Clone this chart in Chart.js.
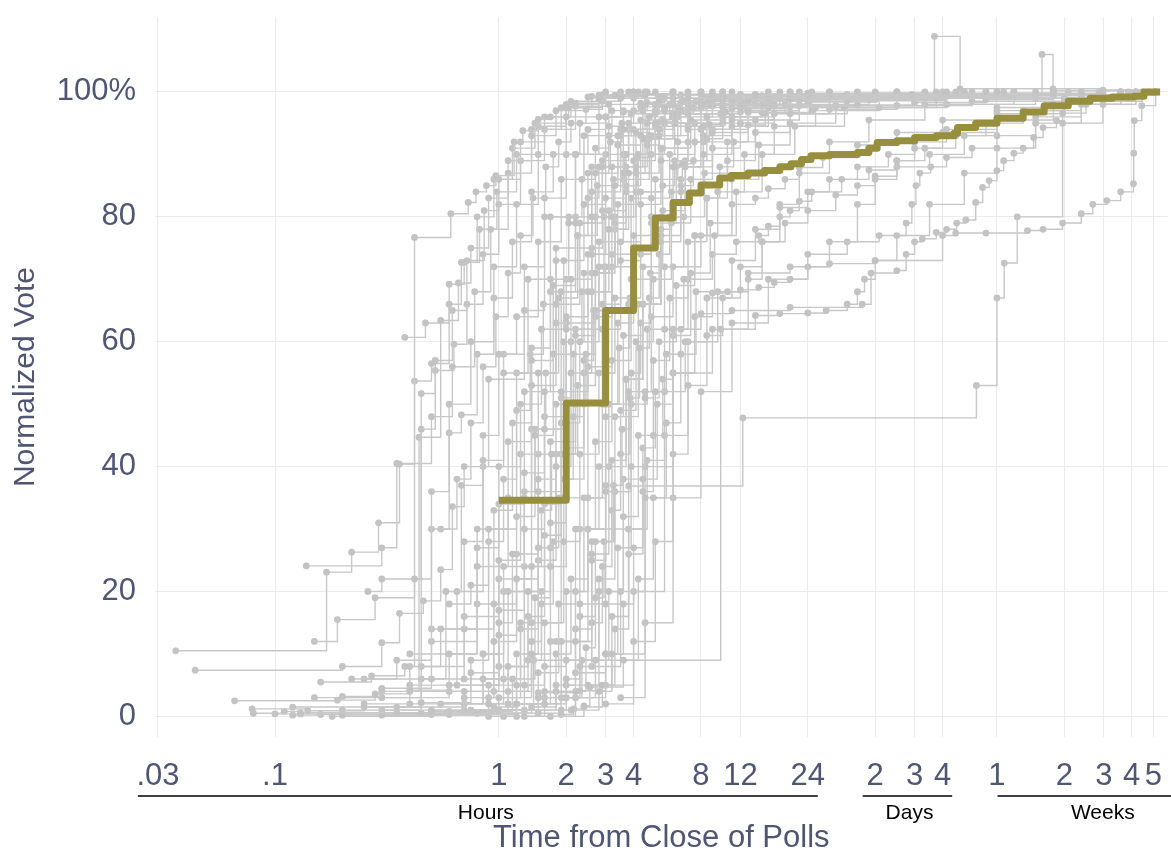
<!DOCTYPE html>
<html><head><meta charset="utf-8">
<script src="https://cdn.jsdelivr.net/npm/chart.js@4.4.0/dist/chart.umd.min.js"></script>
<style>html,body{margin:0;padding:0;background:#fff;} #wrap{width:1171px;height:852px;position:relative;}</style>
</head><body><div id="wrap"><canvas id="c" width="1171" height="852"></canvas></div>
<script>
// ---- tick definitions ----
const xTickValues = [0.03, 0.1, 1, 2, 3, 4, 8, 12, 24, 48, 72, 96, 168, 336, 504, 672, 840];
const xTickLabels = ['.03', '.1', '1', '2', '3', '4', '8', '12', '24', '2', '3', '4', '1', '2', '3', '4', '5'];
const yTickValues = [0, 20, 40, 60, 80, 100];
const yTickLabels = ['0', '20', '40', '60', '80', '100%'];
const axisGroups = [
  {label: 'Hours', from: 0.0244, to: 26.6, at: 0.875},
  {label: 'Days', from: 42.2, to: 106, at: 68.3},
  {label: 'Weeks', from: 169, to: 1400, at: 499}
];

// ---- highlighted series (hours from close of polls, normalized vote %) ----
const highlight = [[1,34.6],[2,50.2],[3,65],[4,75],[5,79.8],[6,82.3],[7.1,83.8],[8,85.1],[9.7,86.2],[10.9,86.6],[13,87],[15.4,87.4],[18,88],[20.2,88.5],[22.5,89.2],[24.8,89.8],[30,90],[40,90.3],[45,91],[49,91.9],[60,92.2],[72,92.7],[90,93],[108,93.4],[112,94.3],[135,95],[168,95.8],[220,96.8],[273,97.8],[350,98.5],[438,99],[550,99.2],[687,99.3],[762,100],[900,100]];

// ---- individual races (hours, %) ----
const s01 = [[0.036,10.5],[0.17,23.1],[0.22,26.3],[0.29,31],[0.36,40.4],[0.42,76.7],[0.61,80.5],[0.73,82.3],[0.79,84],[0.88,85],[0.97,86.6],[1.17,92],[1.28,93.8],[1.5,95.6],[1.7,96],[2.05,97.5],[2.2,98.2],[2.8,99],[3.3,99.5],[4.6,100]];
const s02 = [[0.044,7.4],[0.2,8],[0.3,11.8],[0.36,16.5],[0.46,18.5],[0.55,23.5],[0.62,33.6],[0.7,40],[0.9,54],[1.3,65],[1.6,80],[2.2,90],[2.8,96],[3.5,99],[5,100]];
const s03 = [[0.066,2.5],[0.19,2.6],[0.28,3.6],[0.4,4.2],[0.6,10],[0.8,24],[1.1,35],[1.4,53],[1.8,66],[2.3,79],[2.9,88],[3.6,94],[4.5,98],[6,100]];
const s04 = [[0.079,1.2],[0.14,0.9],[0.25,1.5],[0.45,2.2],[0.75,7],[1.0,17],[1.3,30],[1.6,46],[2.0,62],[2.6,74],[3.3,85],[4.3,93],[5.5,97],[8,100]];
const s05 = [[0.1,0.4],[0.13,0.6],[0.5,0.8],[0.7,4],[0.95,12],[1.2,22],[1.5,36],[1.9,52],[2.5,68],[3.2,80],[4,89],[5,95],[7,99],[10,100]];
const s06 = [[0.138,24.1],[0.3,27],[0.35,40.5],[0.5,48],[0.62,56],[0.78,68],[0.92,78],[1.1,87],[1.4,93],[1.8,97],[2.5,99.2],[3.5,100]];
const s07 = [[0.15,12],[0.19,15.5],[0.28,19],[0.42,22],[0.5,36],[0.6,50],[0.75,60],[0.95,72],[1.2,82],[1.5,90],[2.0,96],[2.8,99],[4,100]];
const s08 = [[0.16,5.5],[0.27,6.5],[0.38,8],[0.55,14],[0.7,28],[0.85,41],[1.05,55],[1.35,70],[1.7,80],[2.2,90],[3,96],[4,99],[6,100]];
const s09 = [[0.2,3.2],[0.3,4.5],[0.5,6],[0.58,20],[0.68,37],[0.85,45],[1.0,58],[1.2,64],[1.5,76],[1.9,86],[2.4,93],[3.2,97],[4.5,99.5],[7,100]];
const s10 = [[0.26,20],[0.3,22],[0.45,46],[0.52,57],[0.62,65],[0.72,73],[0.86,81],[1.0,86],[1.25,92],[1.6,96],[2.1,98.5],[3,100]];
const e11 = [[0.25,2],[0.4,8],[0.42,53.7],[0.5,56.5],[0.6,66],[0.68,72.7],[0.8,80],[0.95,86],[1.15,91],[1.45,95],[2,98],[2.8,99.5],[4,100]];
const e12 = [[0.3,4],[0.44,44.7],[0.55,63.4],[0.66,69.4],[0.75,75],[0.9,83],[1.1,89],[1.4,94],[1.9,97.5],[2.6,99.3],[3.8,100]];
const e13 = [[0.2,1],[0.45,51.7],[0.52,55.4],[0.63,59.6],[0.72,66],[0.85,74],[1.0,82],[1.25,89],[1.6,94],[2.2,97.7],[3,99.4],[4.5,100]];
const e14 = [[0.38,60.7],[0.47,63],[0.6,69.2],[0.7,72.7],[0.82,78],[0.98,84],[1.2,90],[1.5,94.5],[2.0,97.5],[2.9,99.5],[4.2,100]];
const e15 = [[0.22,6],[0.35,9],[0.5,30],[0.6,45.4],[0.68,48.3],[0.8,58],[0.95,67],[1.15,76],[1.4,84],[1.75,90],[2.3,95],[3.1,98],[4.5,99.6],[8,100]];
const m01 = [[0.3,0.2],[0.9,2],[1.1,8],[1.35,20],[1.6,34],[1.9,47],[2.3,60],[2.8,72],[3.4,82],[4.2,90],[5.5,95],[8,98],[14,99.5],[40,100]];
const m02 = [[0.45,0.5],[1.0,3],[1.25,14],[1.5,27],[1.8,40],[2.1,55],[2.6,68],[3.1,78],[3.8,87],[4.8,93],[6.5,97],[10,99],[24,99.6],[96,100]];
const m03 = [[0.5,1],[1.1,4],[1.4,10],[1.7,24],[2.0,38],[2.4,50],[2.9,62],[3.5,73],[4.3,82],[5.3,89],[7,94],[10,97.5],[16,99],[60,100]];
const m04 = [[0.6,0.3],[1.2,2],[1.5,7],[1.85,18],[2.2,30],[2.7,44],[3.2,57],[3.9,70],[4.8,80],[6,88],[8,94],[12,97.5],[20,99],[100,100]];
const m05 = [[0.35,1.5],[0.7,3],[0.95,18],[1.2,32],[1.45,45],[1.75,58],[2.1,70],[2.6,80],[3.2,88],[4,94],[5.5,97.5],[9,99.3],[30,100]];
const m06 = [[0.55,2],[0.85,6],[1.05,24],[1.3,39],[1.6,52],[2.0,64],[2.5,74],[3.0,83],[3.7,90],[4.6,95],[6,98],[9,99.5],[20,100]];
const m07 = [[0.4,4],[0.75,9],[0.9,30],[1.1,44],[1.4,57],[1.75,69],[2.2,79],[2.7,87],[3.4,93],[4.4,97],[6,99],[11,100]];
const m08 = [[0.25,6],[0.5,12],[0.8,27],[1.0,40],[1.25,50],[1.55,62],[1.95,73],[2.4,82],[3.0,90],[3.8,95],[5,98],[8,99.6],[18,100]];
const m09 = [[0.7,1],[1.3,5],[1.6,15],[1.95,28],[2.3,42],[2.8,55],[3.3,67],[4.0,77],[5.0,86],[6.3,92],[8.5,96],[13,98.5],[30,99.4],[150,100]];
const m10 = [[0.8,0.5],[1.5,3],[1.8,10],[2.1,22],[2.5,35],[3.0,48],[3.6,61],[4.4,72],[5.4,81],[6.8,88],[9,93.5],[13,97],[22,98.8],[70,99.6],[300,100]];
const m11 = [[0.3,3],[0.6,5],[1.0,13],[1.2,26],[1.5,38],[1.8,50],[2.2,61],[2.7,71],[3.3,80],[4.1,87],[5.2,93],[7,96.5],[11,98.8],[25,100]];
const m12 = [[0.9,0],[1.6,2],[2.0,6],[2.3,16],[2.7,28],[3.2,41],[3.7,54],[4.4,66],[5.3,76],[6.5,84],[8.2,90],[11,94.5],[16,97.5],[30,99.2],[120,100]];
const m13 = [[0.2,0.2],[0.6,0.8],[1.15,6],[1.45,19],[1.7,31],[2.0,43],[2.4,55],[2.9,66],[3.5,76],[4.3,84],[5.4,91],[7.2,95.5],[10,98],[18,99.5],[48,100]];
const m14 = [[0.65,5],[1.0,8],[1.35,16],[1.6,29],[1.9,42],[2.25,53],[2.7,64],[3.2,74],[3.9,83],[4.8,90],[6.1,95],[8.5,98],[14,99.5],[60,100]];
const m15 = [[1.0,1],[1.8,4],[2.2,12],[2.6,25],[3.0,37],[3.5,49],[4.1,60],[4.9,70],[5.9,79],[7.2,86],[9,91],[12,95],[17,97.8],[35,99.3],[180,100]];
const m16 = [[0.45,8],[0.7,14],[0.95,33],[1.15,47],[1.4,59],[1.7,70],[2.05,79],[2.5,87],[3.1,93],[3.9,96.5],[5.2,98.5],[8,99.6],[16,100]];
const m17 = [[0.12,1.5],[0.4,2],[0.85,10],[1.05,20],[1.3,35],[1.6,48],[1.95,60],[2.4,71],[2.95,80],[3.6,87],[4.5,92.5],[6,96.5],[9,98.7],[20,99.7],[90,100]];
const m18 = [[0.5,14],[0.8,18],[1.0,25],[1.25,42],[1.5,55],[1.85,67],[2.25,77],[2.75,85],[3.4,91.5],[4.3,95.5],[5.8,98],[9,99.4],[22,100]];
const n01 = [[0.5,0.5],[0.95,1.5],[1.2,5],[1.4,12],[1.55,20],[1.7,27],[1.85,35],[2.0,42],[2.2,50],[2.45,58],[2.7,65],[3.0,72],[3.3,78],[3.7,84],[4.1,88],[4.6,91.5],[5.2,94],[6,96],[7,97.3],[8.5,98.2],[11,98.9],[15,99.4],[24,99.8],[60,100]];
const n02 = [[0.7,2],[1.05,6],[1.25,15],[1.4,24],[1.55,33],[1.72,42],[1.9,51],[2.1,60],[2.35,68],[2.6,75],[2.9,81],[3.25,86],[3.65,90],[4.1,93.5],[4.7,96],[5.5,97.6],[6.6,98.6],[8.5,99.2],[12,99.6],[20,100]];
const n03 = [[1.3,0],[1.9,1],[2.2,4],[2.45,11],[2.7,19],[2.95,28],[3.25,37],[3.55,46],[3.9,55],[4.3,63],[4.75,71],[5.3,78],[5.9,84],[6.6,88.5],[7.5,92],[8.7,94.8],[10.3,96.8],[12.5,98],[16,98.8],[24,99.4],[40,99.8],[110,100]];
const n04 = [[0.85,10],[1.0,15],[1.15,26],[1.3,36],[1.45,46],[1.62,55],[1.8,63],[2.0,70],[2.25,77],[2.5,83],[2.8,88],[3.15,92],[3.55,95],[4,97],[4.6,98.3],[5.5,99.1],[7,99.6],[10,100]];
const n05 = [[0.6,18],[0.75,21],[0.9,28],[1.05,38],[1.2,49],[1.38,58],[1.58,66],[1.8,73],[2.05,80],[2.35,86],[2.7,91],[3.1,94.5],[3.6,96.8],[4.3,98.2],[5.2,99],[6.5,99.5],[9,100]];
const n06 = [[1.6,3],[2.3,8],[2.6,15],[2.9,24],[3.2,33],[3.5,42],[3.85,51],[4.25,59],[4.7,67],[5.2,74],[5.8,80],[6.5,85],[7.4,89],[8.5,92.5],[10,95],[12,96.8],[15,98],[20,98.8],[30,99.3],[60,99.7],[168,100]];
const n07 = [[0.55,30],[0.65,38],[0.75,47],[0.85,56],[0.97,64],[1.1,71],[1.25,77],[1.42,83],[1.62,88],[1.85,92],[2.1,95],[2.45,97.2],[2.9,98.5],[3.5,99.3],[4.5,99.7],[6,100]];
const n08 = [[2.1,1],[2.8,4],[3.2,10],[3.6,18],[4.0,27],[4.4,36],[4.9,45],[5.4,54],[6,62],[6.7,70],[7.5,77],[8.5,83],[9.7,88],[11.2,92],[13,94.7],[15.5,96.6],[19,98],[25,98.9],[40,99.5],[100,99.8],[300,100]];
const n09 = [[1.8,12],[2.2,20],[2.5,30],[2.8,40],[3.1,50],[3.45,59],[3.85,67],[4.3,74],[4.8,80],[5.4,85],[6.1,89],[7,92],[8.2,94.5],[9.8,96.5],[12,97.8],[16,98.7],[24,99.3],[48,99.7],[130,100]];
const n10 = [[0.95,4],[1.35,9],[1.55,18],[1.75,28],[1.95,38],[2.15,48],[2.4,57],[2.65,65],[2.95,72],[3.3,79],[3.7,85],[4.15,89.5],[4.7,93],[5.4,95.6],[6.3,97.4],[7.6,98.5],[9.5,99.2],[14,99.6],[30,100]];
const n11 = [[0.4,5],[0.65,20],[0.85,40],[1.05,58],[1.3,72],[1.6,83],[2,90],[2.5,94],[3,96],[3.6,97],[4.3,97.6],[5.2,98],[6.5,98.3],[8,98.6],[10,98.9],[13,99.1],[17,99.3],[24,99.5],[36,99.6],[60,99.8],[120,100]];
const n12 = [[0.75,1],[1.2,10],[1.5,25],[1.8,42],[2.15,58],[2.6,71],[3.1,81],[3.7,88],[4.4,92.5],[5.2,95.2],[6.2,96.6],[7.4,97.4],[9,97.9],[11,98.3],[14,98.6],[18,98.9],[24,99.1],[36,99.3],[60,99.5],[96,99.7],[200,100]];
const l01 = [[1.2,0],[2.2,3],[2.7,9],[3.1,20],[3.6,32],[4.2,45],[4.9,57],[5.8,67],[7,76],[8.5,83],[10.5,89],[14,93.5],[20,96.5],[36,98.6],[100,99.5],[400,100]];
const l02 = [[1.7,0],[2.4,1.5],[2.9,5],[3.3,14],[3.8,26],[4.4,38],[5.1,50],[6,61],[7.2,71],[8.8,79],[11,86],[14.5,91.5],[20,95],[32,97.8],[80,99.2],[300,100]];
const l03 = [[1.9,0.3],[2.16,1.2],[2.4,1.7],[2.55,4.7],[3.6,9],[4.2,22],[4.9,35],[5.6,47],[6.5,58],[7.6,68],[9.2,77],[11.5,84],[15,90],[21,94.5],[35,97.5],[90,99],[500,100]];
const l04 = [[1.5,3.8],[2.3,4.1],[3.0,10],[3.4,27],[3.9,40],[4.5,51],[5.2,60],[6.2,69],[7.5,77],[9.5,84],[12.5,90],[17,94.5],[26,97.5],[60,99.2],[250,100]];
const l05 = [[0.3,1],[1.43,9],[9.8,62],[13,70],[15,76],[18,82],[22,87],[30,92],[45,95.5],[80,98],[200,99.5],[600,100]];
const l06 = [[1.1,2],[1.9,12],[2.5,30],[3.8,36.9],[12.3,47.8],[136,53],[168,67],[181,72.6],[207,80],[330,95],[500,98],[700,99.5],[860,100]];
const l07 = [[2.5,5],[3.2,16],[3.8,30],[4.4,43],[5.0,52],[5.6,58],[6.5,62],[8,64.5],[11,65],[20,65.5],[42,66],[46,71],[60,71.4],[66,74],[72,76],[78,76.5],[90,77.5],[100,78],[111,79],[122,79.5],[135,82.3],[145,84.7],[155,85.8],[168,87.4],[180,89],[200,90.2],[220,91],[245,92.7],[270,94.3],[310,95.4],[330,96.6],[420,98],[600,99.5],[860,100]];
const l08 = [[2,3],[3,10],[4.5,35],[6,55],[7.5,64],[9,67.8],[10.5,68],[12,68.3],[14.5,68.7],[17,69.5],[20,70],[24,72],[30,76],[40,82],[48,86],[60,89],[72,91],[96,93.5],[168,97],[336,99],[600,100]];
const l09 = [[2.6,8],[3.5,20],[4.5,40],[6,55],[9,62],[14,64.2],[18,64.5],[24,64.6],[29,65],[36,66],[40,68],[43,70],[48,73],[60,77],[84,82],[120,87],[168,91],[250,95],[400,98],[700,100]];
const l10 = [[3,2],[4,12],[5,28],[6,42],[7,53],[8.5,61],[10,67],[12,72],[15,76],[19,79],[24,81],[32,83.5],[40,85],[48,86.5],[60,88],[84,90],[120,93],[168,95.5],[300,98],[600,100]];
const l11 = [[2.2,7],[3,18],[3.8,30],[4.6,41],[5.5,52],[6.8,60],[8.5,67],[11,73],[14,78],[18,81.5],[24,84],[34,86],[45,87.5],[60,89],[80,91],[110,93],[150,95],[220,97],[400,99],[750,100]];
const l12 = [[3,5],[4,20],[5.5,45],[7,60],[9.5,68],[13,71],[20,72],[30,72.5],[48,73],[96,77],[110,77.4],[150,77.4],[230,77.8],[270,78],[330,79],[400,80.5],[450,82],[520,82.6],[600,84],[684,85.3],[686,90.2],[690,95.4],[745,97.8],[860,100]];
const l13 = [[2,5],[2.8,20],[3.6,38],[4.5,52],[5.5,62],[7,70],[9,74],[11.5,76],[14.5,77],[16,78.5],[18,80],[20,81],[22,82.5],[25,84],[30,86],[40,88],[55,90],[72,92],[100,94],[168,96.5],[336,98.5],[700,100]];
const l14 = [[1.6,4],[2.3,18],[3,36],[3.8,52],[4.8,64],[6,72],[8,77],[11,82],[14,83],[16,84.5],[19,86],[22,87.9],[28,89.5],[40,91.5],[60,93.5],[96,95.5],[168,97.5],[336,99],[650,100]];
const l15 = [[3.5,3],[4.5,15],[6,35],[8,52],[11,63],[16,70],[24,74],[36,76],[50,77],[66,79],[70,82],[73,85],[76,87],[85,88],[100,89.5],[130,91],[168,93],[250,96],[400,98.5],[750,100]];
const t01 = [[0.4,10],[0.8,30],[1.2,55],[1.8,75],[2.6,88],[3.5,94],[5,96.5],[8,97.5],[14,98],[24,98.4],[48,98.8],[96,99.2],[200,99.6],[500,100]];
const t02 = [[0.7,6],[1.1,20],[1.5,42],[2.0,63],[2.7,80],[3.6,90],[5,94.5],[7,96.5],[11,97.3],[20,97.6],[40,97.9],[72,98.3],[150,98.8],[300,99.4],[700,100]];
const t03 = [[0.9,3],[1.4,15],[1.9,35],[2.5,56],[3.2,72],[4.1,84],[5.3,91],[7,94.5],[10,96],[15,96.7],[25,97],[50,97.5],[100,98],[250,99],[600,100]];
const t04 = [[1.1,2],[1.7,12],[2.3,30],[3.0,50],[3.8,66],[4.8,79],[6.2,88],[8.2,93],[11,95.5],[17,96.5],[30,97.2],[60,97.8],[130,98.5],[400,99.5],[850,100]];
const t05 = [[0.6,4],[1.0,22],[1.4,46],[1.9,68],[2.6,84],[3.5,93],[5,97],[8,98.5],[20,99.2],[60,99.6],[88.3,108.9],[115,100.5],[300,100.2],[700,100]];
const t06 = [[1.3,1],[2.0,9],[2.6,28],[3.3,48],[4.2,66],[5.3,80],[6.8,89],[9,94],[13,96.7],[22,98],[45,98.8],[100,99.3],[180,99.6],[267,106],[299,100.5],[500,100.3],[800,100]];
const t07 = [[0.15,3],[0.45,6],[0.7,16],[1.0,34],[1.3,52],[1.7,68],[2.2,80],[2.9,89],[3.8,94],[5,96.8],[7,98],[12,98.6],[24,99],[72,99.4],[200,99.8],[480,100]];
const t08 = [[0.35,0.5],[0.9,5],[1.3,24],[1.7,44],[2.2,62],[2.8,76],[3.6,86],[4.7,92.5],[6.3,96],[9,97.8],[16,98.5],[36,99],[110,99.5],[350,100]];
const z01 = [[0.08,0.5],[0.11,0.8],[0.13,0.4],[0.6,0.5],[1.2,2],[1.6,8],[2.0,20],[2.4,35],[2.9,50],[3.4,63],[4,74],[4.8,83],[5.8,90],[7.5,95],[11,98],[24,99.5],[80,100]];
const z02 = [[0.12,0.2],[0.16,0.3],[0.9,0.5],[1.4,1.5],[1.8,5],[2.2,14],[2.6,26],[3.1,40],[3.7,54],[4.4,66],[5.3,77],[6.5,86],[8.2,92],[11,96],[17,98.5],[40,99.6],[150,100]];
const z03 = [[0.18,0],[0.5,0.3],[1.05,0],[1.5,0.5],[1.9,3],[2.35,9],[2.8,22],[3.3,36],[3.9,50],[4.6,62],[5.5,72],[6.7,80],[8.3,87],[10.5,92],[14,95.5],[22,97.8],[50,99.2],[200,100]];

const greySeries = [s01,s02,s03,s04,s05,s06,s07,s08,s09,s10,e11,e12,e13,e14,e15,
  m01,m02,m03,m04,m05,m06,m07,m08,m09,m10,m11,m12,m13,m14,m15,m16,m17,m18,
  n01,n02,n03,n04,n05,n06,n07,n08,n09,n10,n11,n12,
  l01,l02,l03,l04,l05,l06,l07,l08,l09,l10,l11,l12,l13,l14,l15,
  t01,t02,t03,t04,t05,t06,t07,t08,z01,z02,z03];

// ---- styles ----
const GREY_LINE = '#c8c8c8';
const GREY_PT = '#c3c3c3';
const OLIVE = '#978e3e';
const AXIS_TEXT = '#4f5674';
const GRID = '#ebebeb';
const FONT = '"Liberation Sans", Arial, sans-serif';

const toPts = s => s.map(p => ({x: p[0], y: p[1]}));
const datasets = greySeries.map(s => ({
  data: toPts(s), stepped: true, borderColor: GREY_LINE, borderWidth: 1.4,
  pointRadius: 3.4, pointBackgroundColor: GREY_PT, pointBorderWidth: 0, pointHoverRadius: 3.4, order: 1
}));
datasets.push({
  data: toPts(highlight), stepped: true, borderColor: OLIVE, borderWidth: 7,
  pointRadius: 0, pointHoverRadius: 0, order: 0, borderJoinStyle: 'round', borderCapStyle: 'butt'
});

const groupPlugin = {
  id: 'groups',
  afterDraw(chart) {
    const c = chart.ctx, xs = chart.scales.x;
    c.save();
    c.strokeStyle = '#000'; c.lineWidth = 1.5; c.fillStyle = '#000';
    c.font = '21px ' + FONT; c.textAlign = 'center'; c.textBaseline = 'middle';
    axisGroups.forEach(g => {
      const a = Math.max(0, xs.getPixelForValue(g.from));
      const b = Math.min(chart.width, xs.getPixelForValue(g.to));
      c.beginPath(); c.moveTo(a, 796); c.lineTo(b, 796); c.stroke();
      c.fillText(g.label, xs.getPixelForValue(g.at), 813);
    });
    c.restore();
  }
};

new Chart(document.getElementById('c'), {
  type: 'line',
  data: {datasets},
  options: {
    responsive: false, animation: false, events: [],
    layout: {padding: {top: 17, right: 0, bottom: 0, left: 0}},
    plugins: {legend: {display: false}, tooltip: {enabled: false}},
    scales: {
      x: {
        type: 'logarithmic', min: 0.0291, max: 972,
        afterBuildTicks: ax => { ax.ticks = xTickValues.map(v => ({value: v})); },
        afterFit: ax => { ax.height = 115; ax.paddingLeft = 0; ax.paddingRight = 0; },
        ticks: {autoSkip: false, maxRotation: 0, padding: 21, color: AXIS_TEXT,
          font: {family: FONT, size: 31},
          callback: (v, i) => xTickLabels[i]},
        grid: {color: GRID, lineWidth: 1, drawTicks: false},
        border: {display: false},
        title: {display: true, text: 'Time from Close of Polls', color: AXIS_TEXT,
          font: {family: FONT, size: 31, lineHeight: 0.9}, padding: {top: 0, bottom: 0}}
      },
      y: {
        type: 'linear', min: -3.3, max: 112,
        afterBuildTicks: ax => { ax.ticks = yTickValues.map(v => ({value: v})); },
        afterFit: ax => { ax.width = 155; ax.paddingTop = 0; ax.paddingBottom = 0; },
        ticks: {padding: 19, color: AXIS_TEXT, font: {family: FONT, size: 31},
          callback: (v, i) => yTickLabels[i]},
        grid: {color: GRID, lineWidth: 1, drawTicks: false},
        border: {display: false},
        title: {display: true, text: 'Normalized Vote', color: AXIS_TEXT,
          font: {family: FONT, size: 30, lineHeight: 1.2}, padding: {top: 8, bottom: 0}}
      }
    }
  },
  plugins: [groupPlugin]
});
</script></body></html>
